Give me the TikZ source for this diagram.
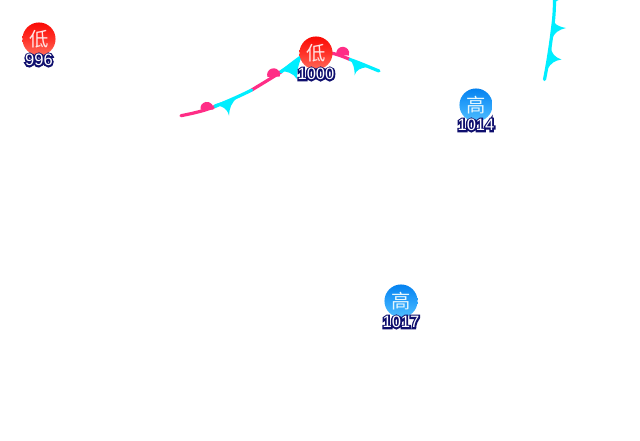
\documentclass[tikz,border=0pt]{standalone}
\usepackage{fontspec}
\setmainfont{Liberation Sans}
\newfontfamily\cjk{Noto Sans CJK SC}
\usetikzlibrary{shadings}
\definecolor{warmc}{HTML}{FF2D86}
\definecolor{coldc}{HTML}{00EEFF}
\definecolor{lowa}{HTML}{FF6A5A}
\definecolor{lowb}{HTML}{FF3228}
\definecolor{lowd}{HTML}{FA0A05}
\definecolor{higha}{HTML}{50BEFF}
\definecolor{highb}{HTML}{28A0FA}
\definecolor{highd}{HTML}{0582F0}
\pgfdeclareverticalshading{lowshade}{100bp}{color(0bp)=(lowa);color(25bp)=(lowa);color(50bp)=(lowb);color(75bp)=(lowd);color(100bp)=(lowd)}
\pgfdeclareverticalshading{highshade}{100bp}{color(0bp)=(higha);color(25bp)=(higha);color(50bp)=(highb);color(75bp)=(highd);color(100bp)=(highd)}
\newcommand{\haloed}[1]{\rlap{\special{pdf:code q 1 Tr 2.4 w 0.06 0.06 0.43 RG}#1\special{pdf:code Q}}#1}
\tikzset{
  warm/.style={draw=warmc,line width=2.4pt,line cap=round},
  cold/.style={draw=coldc,line width=2.4pt,line cap=round},
  warmbump/.style={fill=warmc},
  coldbarb/.style={fill=coldc},
  lowc/.style={circle,minimum size=24.8pt,inner sep=0pt,shading=lowshade,text=white!90!red,font=\cjk\fontsize{14.5pt}{14.5pt}\selectfont},
  highc/.style={circle,minimum size=24.8pt,inner sep=0pt,shading=highshade,text=white!90!cyan,font=\cjk\fontsize{14.5pt}{14.5pt}\selectfont},
  press/.style={inner sep=0pt,text=white,font=\fontsize{12.4pt}{12pt}\selectfont}
}
\begin{document}
\begin{tikzpicture}[x=0.75pt,y=-0.75pt]
\useasboundingbox[fill=white] (0,0) rectangle (640,440);
% warm segments
\draw[warm] (181,115.7) .. controls (192,113.5) and (204,111) .. (215,106.5);
\draw[warm] (251.7,90) .. controls (260,85) and (270,79) .. (281,72);
\draw[warm] (325,52) .. controls (334,53) and (342,56) .. (350,59.5);
% warm bumps
\fill[warmbump] (200.5,109.5) arc[start angle=-190,end angle=10,radius=6.5] -- cycle;
\fill[warmbump] (267.5,77) arc[start angle=-200,end angle=15,radius=6.5] -- cycle;
\fill[warmbump] (336.5,55) arc[start angle=-195,end angle=20,radius=6.5] -- cycle;
% cold segments
\draw[cold] (215,106.5) .. controls (228,101) and (240,96) .. (251.7,90);
\draw[cold] (281,72) .. controls (289,66) and (296,60) .. (304,55);
\draw[cold] (350,59.5) .. controls (360,63) and (369,67) .. (379,71);
\draw[cold] (544.5,79.5) .. controls (548,62) and (551,42) .. (552.7,27) .. controls (554,18) and (554.5,8) .. (554.5,0);
% cold barbs
\fill[coldbarb] (214,104.5) .. controls (222,106) and (227,108) .. (229,115.5) .. controls (229.5,108) and (231,103) .. (238,97) -- cycle;
\fill[coldbarb] (279,71) .. controls (287,71) and (293,73) .. (297,79) .. controls (297,72) and (298,65) .. (302,56) -- cycle;
\fill[coldbarb] (349,58) .. controls (353,63) and (355,68) .. (354.5,75.5) .. controls (356,70) and (360,68) .. (368,67) -- cycle;
\fill[coldbarb] (552.7,18) .. controls (553,24) and (558,26.5) .. (566,28) .. controls (559,29.5) and (554,33) .. (552,39) -- cycle;
\fill[coldbarb] (551,47) .. controls (551,53) and (555,57.5) .. (561.5,59.5) .. controls (555,60.5) and (551,63) .. (547.5,69) -- cycle;
\fill[coldbarb] (554.5,4) .. controls (555,2) and (556,1) .. (558.5,0) -- (554.5,0) -- cycle;
% pressure centres
\node[lowc] (l1) at (39,39) {低};
\node[lowc] (l2) at (316,53) {低};
\node[highc] (h1) at (476,105) {高};
\node[highc] (h2) at (401,301) {高};
\node[press] (p1) at (39,60) {\haloed{996}};
\node[press] (p2) at (316,74) {\haloed{1000}};
\node[press] (p3) at (476,125) {\haloed{1014}};
\node[press] (p4) at (401,322) {\haloed{1017}};
\end{tikzpicture}
\end{document}
